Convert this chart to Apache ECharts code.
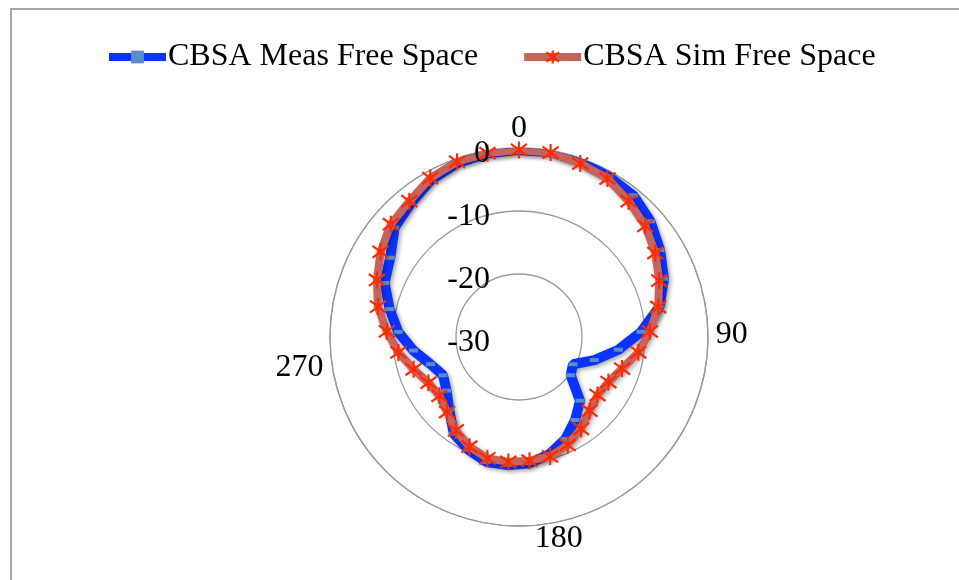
<!DOCTYPE html>
<html>
<head>
<meta charset="utf-8">
<script src="https://cdn.jsdelivr.net/npm/echarts@6.0.0/dist/echarts.min.js"></script>
<style>
html,body{margin:0;padding:0;background:#fff;}
#wrap{position:relative;width:959px;height:580px;overflow:hidden;}
#chart{position:absolute;left:0;top:0;width:959px;height:580px;}
#frame{position:absolute;left:10px;top:8px;width:960px;height:600px;border:2px solid #a6a6a6;box-sizing:border-box;pointer-events:none;}
</style>
</head>
<body>
<div id="wrap"><div id="frame"></div><div id="chart"></div></div>
<script>
// Angles (degrees) of the 37 measurement categories
const angles = [0,10,20,30,40,50,60,70,80,90,100,110,120,130,140,150,160,170,180,
                190,200,210,220,230,240,250,260,270,280,290,300,310,320,330,340,350,360];
// Measured pattern (dB)
const measValues = [-0.3,-0.2,-0.5,-0.8,-1.1,-2.2,-3.7,-5.2,-7.2,-10.6,-14.1,-17.5,-20.4,-19.8,-16.0,-14.1,-12.2,-10.8,-9.9,
                    -9.6,-9.5,-10.4,-11.5,-14.0,-15.7,-16.5,-15.3,-13.1,-10.8,-9.0,-7.0,-6.0,-3.7,-2.7,-1.4,-0.7,-0.4];
// Simulated pattern (dB)
const simValues = [-0.3,-0.3,-0.8,-1.2,-2.3,-3.3,-4.6,-6.0,-7.4,-9.2,-10.9,-12.9,-14.1,-14.5,-13.8,-12.4,-11.2,-10.4,-10.3,
                   -10.1,-10.1,-10.9,-12.1,-13.5,-14.3,-13.9,-12.5,-10.7,-9.0,-7.1,-5.7,-4.2,-2.9,-2.3,-1.1,-0.5,-0.4];
// Tick labels
const angleTickLabels = ['0','90','180','270'];
const radiusTicks = [-30,-20,-10,0];
const seriesNames = ['CBSA Meas Free Space','CBSA Sim Free Space'];

const FONT = '"Liberation Serif", "Times New Roman", serif';
const FS = 32;
const angleMax = angles[angles.length-1] + 10; // categories spread evenly round the circle

function buildData(vals){
  const d = vals.map((v,i)=>[v, angles[i]]);
  d.push({value:[vals[0], angleMax], symbol:'none'}); // close the loop like a radar chart
  return d;
}

const STAR = 'path://M10,0 L10,20 M0,3 L20,17 M0,17 L20,3';
const MEAS_LINE = '#0a33ff', MEAS_MARK = '#5a8cc8';
const SIM_LINE = '#c8625a', SIM_MARK = '#ff2a00';
const CENTER = [519,337], RADIUS = 189;

const radiusBase = {
  type:'value', min:radiusTicks[0], max:radiusTicks[radiusTicks.length-1], interval:10,
  axisLine:{show:false}, axisTick:{show:false}
};

const chart = echarts.init(document.getElementById('chart'), null, {renderer:'canvas'});
chart.setOption({
  animation:false,
  backgroundColor:'transparent',
  textStyle:{fontFamily:FONT},
  legend:{
    top:36, left:100,
    itemGap:42, itemWidth:57, itemHeight:16,
    textStyle:{fontFamily:FONT, fontSize:FS, color:'#000', padding:[0,0,0,-3]},
    data:[
      {name:seriesNames[0], lineStyle:{width:8, color:MEAS_LINE}, itemStyle:{color:MEAS_MARK}},
      {name:seriesNames[1], lineStyle:{width:8, color:SIM_LINE}, itemStyle:{color:SIM_MARK, borderColor:SIM_MARK, borderWidth:2.2}}
    ]
  },
  polar:[{center:CENTER, radius:RADIUS},{center:CENTER, radius:RADIUS}],
  angleAxis:[{
    polarIndex:0,
    type:'value', min:0, max:angleMax, interval:90, startAngle:90, clockwise:true,
    axisLine:{show:true, lineStyle:{color:'#9a9a9a', width:1.3}},
    axisTick:{show:false},
    splitLine:{show:false},
    axisLabel:{
      margin:8, fontFamily:FONT, fontSize:FS, color:'#000',
      formatter:function(v){
        const s = String(v);
        if(angleTickLabels.indexOf(s) < 0) return '';
        if(s === '180') return '{b|180}';
        if(s === '0') return '{t|0}';
        return '{m|' + s + '}';
      },
      rich:{
        b:{fontFamily:FONT, fontSize:FS, color:'#000', lineHeight:10, padding:[0,0,0,46]},
        t:{fontFamily:FONT, fontSize:FS, color:'#000', lineHeight:22},
        m:{fontFamily:FONT, fontSize:FS, color:'#000', padding:[12,0,0,0]}
      }
    }
  },{
    polarIndex:1, show:false,
    type:'value', min:0, max:angleMax, interval:90, startAngle:90, clockwise:true
  }],
  radiusAxis:[
    Object.assign({}, radiusBase, {
      polarIndex:0,
      splitLine:{show:true, lineStyle:{color:'#9a9a9a', width:1.3}},
      axisLabel:{show:false}
    }),
    Object.assign({}, radiusBase, {
      polarIndex:1, z:20,
      splitLine:{show:false},
      axisLabel:{
        fontFamily:FONT, fontSize:FS, color:'#000', margin:29,
        formatter:function(v){ return '{r|' + v + '}'; },
        rich:{r:{fontFamily:FONT, fontSize:FS, color:'#000', padding:[12,0,0,0]}}
      }
    })
  ],
  series:[
    {
      name:seriesNames[0], type:'line', coordinateSystem:'polar', polarIndex:0,
      data:buildData(measValues),
      symbol:'rect', symbolSize:[9,4],
      itemStyle:{color:MEAS_MARK},
      lineStyle:{color:MEAS_LINE, width:10, shadowColor:'rgba(0,0,0,0.35)', shadowBlur:4, shadowOffsetX:2, shadowOffsetY:2},
      z:2
    },
    {
      name:seriesNames[1], type:'line', coordinateSystem:'polar', polarIndex:0,
      data:buildData(simValues),
      symbol:STAR, symbolSize:[16,17],
      itemStyle:{color:SIM_MARK, borderColor:SIM_MARK, borderWidth:2.2},
      lineStyle:{color:SIM_LINE, width:8, shadowColor:'rgba(0,0,0,0.3)', shadowBlur:4, shadowOffsetX:2, shadowOffsetY:2},
      z:3
    }
  ]
});
</script>
</body>
</html>
